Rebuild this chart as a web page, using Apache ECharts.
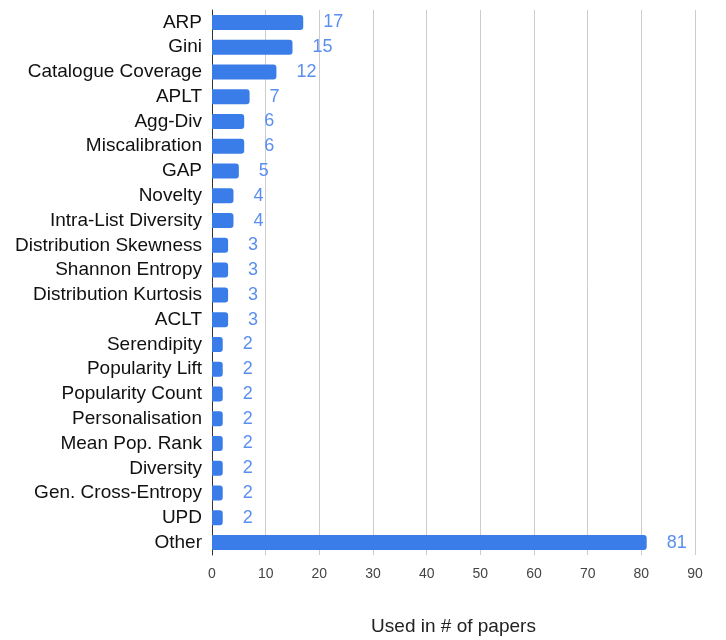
<!DOCTYPE html>
<html><head><meta charset="utf-8">
<script src="https://cdn.jsdelivr.net/npm/echarts@6/dist/echarts.min.js"></script>
<style>html,body{margin:0;padding:0;background:#fff}#c{width:726px;height:640px}</style>
</head><body><div id="c"></div>
<script>
const categories = ["ARP","Gini","Catalogue Coverage","APLT","Agg-Div","Miscalibration","GAP","Novelty","Intra-List Diversity","Distribution Skewness","Shannon Entropy","Distribution Kurtosis","ACLT","Serendipity","Popularity Lift","Popularity Count","Personalisation","Mean Pop. Rank","Diversity","Gen. Cross-Entropy","UPD","Other"];
const values = [17,15,12,7,6,6,5,4,4,3,3,3,3,2,2,2,2,2,2,2,2,81];
const xTicks = [0,10,20,30,40,50,60,70,80,90];
const axisName = "Used in # of papers";

const chart = echarts.init(document.getElementById('c'));
chart.setOption({
  animation:false,
  textStyle:{fontFamily:'Liberation Sans, Arial, sans-serif'},
  grid:{left:212,right:31,top:10,bottom:85,containLabel:false,outerBoundsMode:'none'},
  xAxis:{type:'value',min:xTicks[0],max:xTicks[xTicks.length-1],interval:10,
    name:axisName,nameLocation:'middle',nameGap:62,
    nameTextStyle:{fontSize:19,color:'#222'},
    axisLine:{show:false},axisTick:{show:false},
    axisLabel:{fontSize:14,color:'#444',margin:12},
    splitLine:{lineStyle:{color:'#cccccc',width:1}}},
  yAxis:{type:'category',data:categories,inverse:true,
    axisLine:{show:true,lineStyle:{color:'#333',width:1}},
    axisTick:{show:false},
    axisLabel:{fontSize:19,color:'#111',margin:10,interval:0,hideOverlap:false}},
  series:[{type:'bar',data:values,barWidth:15,
    itemStyle:{color:'#3a7de8',borderRadius:[0,3,3,0]},
    label:{show:true,position:'right',distance:20,fontSize:18,color:'#5a8ff0'}}]
});
</script></body></html>
